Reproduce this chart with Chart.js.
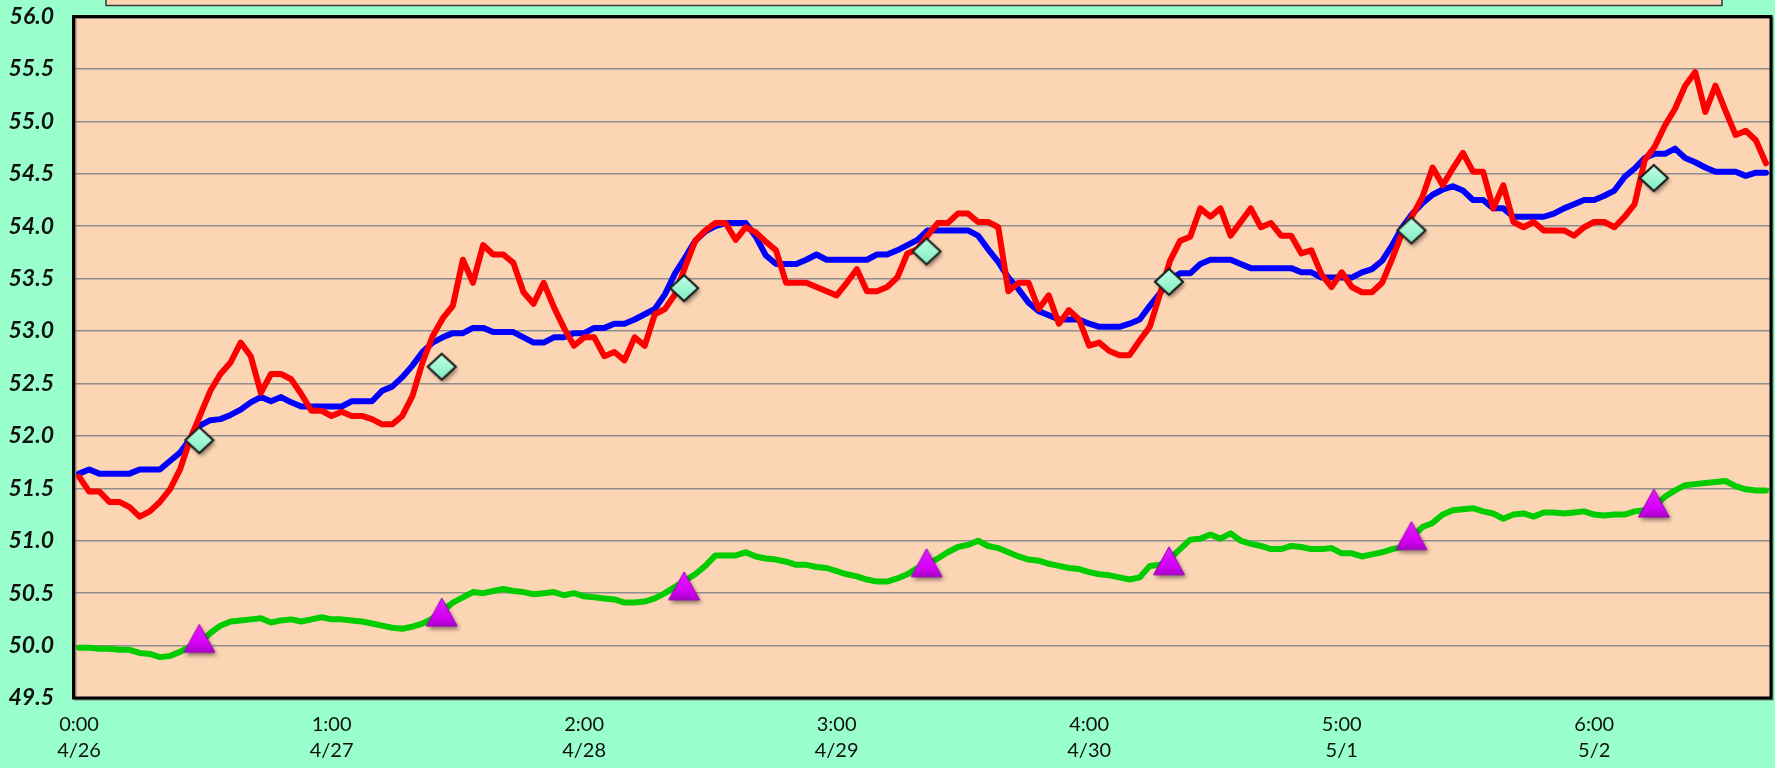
<!DOCTYPE html>
<html><head><meta charset="utf-8">
<style>html,body{margin:0;padding:0;background:#99ffcc;}canvas{display:block}</style>
<script src="https://cdn.jsdelivr.net/npm/chart.js@4.4.1/dist/chart.umd.min.js"></script>
</head><body>
<canvas id="c" width="1775" height="768"></canvas>
<script>
// ---- data ----
const hours = Array.from({length: 168}, (_, i) => i); // hourly categories, 4/26 0:00 .. 5/2 23:00
const timeTickLabels = ['0:00','1:00','2:00','3:00','4:00','5:00','6:00'];
const dateTickLabels = ['4/26','4/27','4/28','4/29','4/30','5/1','5/2'];
const tickEvery = 25;

const redSeries = [
51.61,51.47,51.47,51.37,51.37,51.32,51.23,51.28,51.37,51.49,51.68,51.97,52.20,52.43,52.59,52.70,52.89,52.76,52.41,52.59,
52.59,52.54,52.40,52.24,52.24,52.19,52.23,52.19,52.19,52.16,52.11,52.11,52.19,52.38,52.70,52.95,53.12,53.24,53.68,53.46,
53.82,53.73,53.73,53.65,53.37,53.26,53.46,53.23,53.03,52.86,52.94,52.94,52.76,52.80,52.72,52.94,52.86,53.16,53.21,53.35,
53.61,53.86,53.96,54.03,54.03,53.87,53.99,53.94,53.85,53.77,53.46,53.46,53.46,53.42,53.38,53.34,53.46,53.59,53.38,53.38,
53.42,53.51,53.74,53.78,53.91,54.03,54.03,54.12,54.12,54.04,54.04,53.99,53.38,53.46,53.46,53.21,53.34,53.07,53.20,53.11,
52.86,52.89,52.81,52.77,52.77,52.91,53.04,53.35,53.67,53.86,53.90,54.17,54.09,54.17,53.91,54.04,54.17,53.99,54.03,53.91,
53.91,53.74,53.77,53.54,53.42,53.56,53.42,53.37,53.37,53.46,53.69,53.94,54.10,54.28,54.56,54.39,54.55,54.70,54.52,54.52,
54.17,54.39,54.04,53.99,54.04,53.96,53.96,53.96,53.91,53.99,54.04,54.04,53.99,54.09,54.21,54.63,54.76,54.96,55.12,55.34,
55.47,55.09,55.34,55.10,54.87,54.91,54.82,54.60
];
const blueSeries = [
51.64,51.68,51.64,51.64,51.64,51.64,51.68,51.68,51.68,51.76,51.84,51.97,52.10,52.15,52.16,52.20,52.25,52.32,52.37,52.33,
52.37,52.32,52.28,52.28,52.28,52.28,52.28,52.33,52.33,52.33,52.43,52.47,52.56,52.67,52.80,52.89,52.94,52.98,52.98,53.03,
53.03,52.99,52.99,52.99,52.94,52.89,52.89,52.94,52.94,52.98,52.98,53.03,53.03,53.07,53.07,53.11,53.16,53.21,53.35,53.55,
53.70,53.86,53.95,54.00,54.03,54.03,54.03,53.90,53.72,53.64,53.64,53.64,53.68,53.73,53.68,53.68,53.68,53.68,53.68,53.73,
53.73,53.77,53.82,53.87,53.96,53.96,53.96,53.96,53.96,53.91,53.78,53.66,53.51,53.40,53.27,53.19,53.15,53.11,53.11,53.11,
53.07,53.04,53.04,53.04,53.07,53.11,53.24,53.36,53.49,53.55,53.55,53.64,53.68,53.68,53.68,53.64,53.60,53.60,53.60,53.60,
53.60,53.56,53.56,53.51,53.51,53.51,53.51,53.56,53.59,53.67,53.82,53.99,54.12,54.22,54.30,54.35,54.38,54.34,54.25,54.25,
54.17,54.17,54.09,54.09,54.09,54.09,54.12,54.17,54.21,54.25,54.25,54.29,54.34,54.47,54.55,54.65,54.69,54.69,54.74,54.65,
54.61,54.56,54.52,54.52,54.52,54.48,54.51,54.51
];
const greenSeries = [
49.98,49.98,49.97,49.97,49.96,49.96,49.93,49.92,49.89,49.90,49.94,49.99,50.03,50.12,50.19,50.23,50.24,50.25,50.26,50.22,
50.24,50.25,50.23,50.25,50.27,50.25,50.25,50.24,50.23,50.21,50.19,50.17,50.16,50.18,50.21,50.26,50.33,50.41,50.46,50.51,
50.50,50.52,50.54,50.52,50.51,50.49,50.50,50.51,50.48,50.50,50.47,50.46,50.45,50.44,50.41,50.41,50.42,50.45,50.50,50.56,
50.62,50.68,50.76,50.86,50.86,50.86,50.89,50.85,50.83,50.82,50.80,50.77,50.77,50.75,50.74,50.71,50.68,50.66,50.63,50.61,
50.61,50.64,50.68,50.74,50.78,50.83,50.89,50.94,50.96,51.00,50.95,50.93,50.89,50.85,50.82,50.81,50.78,50.76,50.74,50.73,
50.70,50.68,50.67,50.65,50.63,50.65,50.76,50.77,50.83,50.92,51.01,51.02,51.06,51.02,51.07,51.00,50.97,50.95,50.92,50.92,
50.95,50.94,50.92,50.92,50.93,50.88,50.88,50.85,50.87,50.89,50.92,50.94,51.04,51.13,51.17,51.25,51.29,51.30,51.31,51.28,
51.26,51.21,51.25,51.26,51.23,51.27,51.27,51.26,51.27,51.28,51.25,51.24,51.25,51.25,51.28,51.29,51.33,51.42,51.48,51.53,
51.54,51.55,51.56,51.57,51.52,51.49,51.48,51.48
];
const markerHours = [12, 36, 60, 84, 108, 132, 156];
const diamondValues = [51.95, 52.65, 53.40, 53.75, 53.46, 53.95, 54.45];
const triangleValues = [50.06, 50.31, 50.56, 50.78, 50.80, 51.04, 51.35];

// ---- marker images ----
function makeDiamond() {
  const c = document.createElement('canvas'); c.width = 46; c.height = 46;
  const g = c.getContext('2d');
  const cx = 22, cy = 22, rx = 14, ry = 13;
  const path = () => { g.beginPath(); g.moveTo(cx, cy - ry); g.lineTo(cx + rx, cy); g.lineTo(cx, cy + ry); g.lineTo(cx - rx, cy); g.closePath(); };
  g.save();
  g.shadowColor = 'rgba(0,0,0,0.45)'; g.shadowBlur = 4; g.shadowOffsetX = 2; g.shadowOffsetY = 3;
  path();
  const gr = g.createLinearGradient(0, cy - ry, 0, cy + ry);
  gr.addColorStop(0, '#bfffe6'); gr.addColorStop(1, '#80eec0');
  g.fillStyle = gr; g.fill();
  g.restore();
  path(); g.lineWidth = 2.2; g.strokeStyle = '#1e1e1e'; g.stroke();
  return c;
}
function makeTriangle() {
  const c = document.createElement('canvas'); c.width = 46; c.height = 46;
  const g = c.getContext('2d');
  const cx = 22, cy = 22, hw = 15.5, hh = 14;
  const path = () => { g.beginPath(); g.moveTo(cx, cy - hh); g.lineTo(cx + hw, cy + hh); g.lineTo(cx - hw, cy + hh); g.closePath(); };
  g.save();
  g.shadowColor = 'rgba(0,0,0,0.45)'; g.shadowBlur = 4; g.shadowOffsetX = 2; g.shadowOffsetY = 3;
  path();
  const gr = g.createLinearGradient(0, cy - hh, 0, cy + hh);
  gr.addColorStop(0, '#e21cff'); gr.addColorStop(0.7, '#d400f5'); gr.addColorStop(1, '#a800c8');
  g.fillStyle = gr; g.fill();
  g.restore();
  path(); g.lineWidth = 1; g.strokeStyle = '#9a00b8'; g.stroke();
  return c;
}
function sparse(values) {
  const arr = hours.map(() => null);
  markerHours.forEach((h, k) => { arr[h] = values[k]; });
  return arr;
}

// ---- decoration plugin ----
const deco = {
  id: 'deco',
  beforeDraw(chart) {
    const ctx = chart.ctx, a = chart.chartArea;
    ctx.save();
    ctx.fillStyle = '#99ffcc';
    ctx.fillRect(0, 0, chart.width, chart.height);
    // cut-off legend box at the top
    ctx.fillStyle = '#fcd5b5';
    ctx.fillRect(106, -10, 1616, 15.5);
    ctx.strokeStyle = '#3a3a3a'; ctx.lineWidth = 1.5;
    ctx.strokeRect(106, -10, 1616, 15.5);
    // plot area
    ctx.fillStyle = '#fcd5b5';
    ctx.fillRect(a.left, a.top, a.right - a.left, a.bottom - a.top);
    ctx.restore();
  },
  afterDraw(chart) {
    const ctx = chart.ctx, a = chart.chartArea;
    ctx.save();
    ctx.strokeStyle = 'rgba(60,60,60,0.55)'; ctx.lineWidth = 2;
    ctx.strokeRect(a.left + 1.5, a.top + 1.5, a.right - a.left, a.bottom - a.top);
    ctx.strokeStyle = '#000'; ctx.lineWidth = 3;
    ctx.strokeRect(a.left - 0.5, a.top, a.right - a.left + 0.5, a.bottom - a.top);
    ctx.restore();
  }
};

const lineDs = (label, data, color, order) => ({
  label, data, borderColor: color, backgroundColor: color, borderWidth: 6,
  pointRadius: 0, tension: 0, borderJoinStyle: 'round', borderCapStyle: 'round', order, spanGaps: true
});

new Chart(document.getElementById('c'), {
  type: 'line',
  data: {
    labels: hours,
    datasets: [
      { label: 'diamonds', data: sparse(diamondValues), showLine: false, pointStyle: makeDiamond(), pointRadius: 12, order: 1 },
      { label: 'triangles', data: sparse(triangleValues), showLine: false, pointStyle: makeTriangle(), pointRadius: 12, order: 2 },
      lineDs('red', redSeries, '#ff0000', 3),
      lineDs('blue', blueSeries, '#0000ff', 4),
      lineDs('green', greenSeries, '#00cc00', 5)
    ]
  },
  options: {
    responsive: false, animation: false, devicePixelRatio: 1,
    layout: { autoPadding: false, padding: { top: 16.5, right: 4, left: 0, bottom: 0 } },
    plugins: { legend: { display: false }, tooltip: { enabled: false } },
    scales: {
      x: {
        type: 'category', offset: true,
        grid: { display: false, drawTicks: false },
        border: { display: false },
        afterFit(s) { s.height = 70; s.paddingLeft = 0; s.paddingRight = 0; },
        ticks: {
          autoSkip: false, maxRotation: 0, minRotation: 0, padding: 14,
          color: '#111', font: { family: 'Lato', size: 20, lineHeight: 1.3 },
          callback(v, i) { return i % tickEvery === 0 ? [timeTickLabels[i / tickEvery], dateTickLabels[i / tickEvery]] : ''; }
        }
      },
      y: {
        min: 49.5, max: 56,
        grid: { color: '#8e8e8e', lineWidth: 1.5, drawTicks: false },
        border: { display: false },
        afterFit(s) { s.width = 74; s.paddingTop = 0; s.paddingBottom = 0; },
        ticks: {
          stepSize: 0.5, padding: 20, color: '#111',
          font: { family: 'Lato', size: 23, weight: 'bold', style: 'italic' },
          callback(v) { return Number(v).toFixed(1); }
        }
      }
    }
  },
  plugins: [deco]
});
</script>
</body></html>
